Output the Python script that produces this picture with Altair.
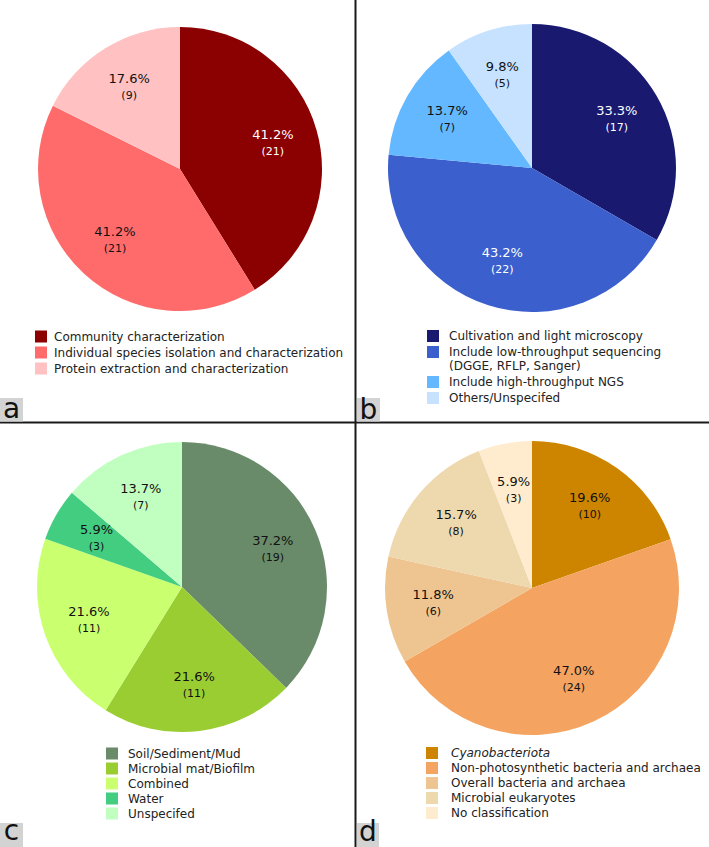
import altair as alt
import pandas as pd

FONT = "DejaVu Sans"

# ---- data ----
cats_a = ["Community characterization",
          "Individual species isolation and characterization",
          "Protein extraction and characterization"]
counts_a = [21, 21, 9]
pcts_a = [41.2, 41.2, 17.6]
colors_a = ["#8b0000", "#ff6b6b", "#ffc1c1"]
dark_a = ["Community characterization"]

cats_b = ["Cultivation and light microscopy",
          "Include low-throughput sequencing\n(DGGE, RFLP, Sanger)",
          "Include high-throughput NGS",
          "Others/Unspecifed"]
counts_b = [17, 22, 7, 5]
pcts_b = [33.3, 43.2, 13.7, 9.8]
colors_b = ["#191970", "#3b5fcd", "#63b8ff", "#c6e2ff"]
dark_b = ["Cultivation and light microscopy",
          "Include low-throughput sequencing\n(DGGE, RFLP, Sanger)"]

cats_c = ["Soil/Sediment/Mud", "Microbial mat/Biofilm", "Combined", "Water", "Unspecifed"]
counts_c = [19, 11, 11, 3, 7]
pcts_c = [37.2, 21.6, 21.6, 5.9, 13.7]
colors_c = ["#698b69", "#9acd32", "#caff70", "#43cd80", "#c1ffc1"]
dark_c = []

cats_d = ["Cyanobacteriota", "Non-photosynthetic bacteria and archaea",
          "Overall bacteria and archaea", "Microbial eukaryotes", "No classification"]
counts_d = [10, 24, 6, 8, 3]
pcts_d = [19.6, 47.0, 11.8, 15.7, 5.9]
colors_d = ["#cd8500", "#f4a460", "#eec591", "#eed8ae", "#ffebcd"]
dark_d = []

letters = ["a", "b", "c", "d"]

W, H = 709, 847


def pie(cats, counts, pcts, colors, dark, cx, cy, r, lx, ly, row_pad, label_off, italic=None):
    df = pd.DataFrame({
        "cat": cats,
        "value": counts,
        "idx": list(range(len(cats))),
        "pct": [f"{p:.1f}%" for p in pcts],
        "cnt": [f"({c})" for c in counts],
    })
    legend_kw = dict(
        orient="none", legendX=lx, legendY=ly, title=None, padding=0,
        symbolType="square", symbolSize=144, symbolStrokeWidth=0,
        labelFont=FONT, labelFontSize=12, labelColor="#222222",
        labelOffset=label_off, rowPadding=row_pad, labelLimit=400,
        labelExpr="split(datum.label, '\\n')",
    )
    if italic:
        legend_kw["labelFontStyle"] = alt.ExprRef(
            expr="datum.label == '%s' ? 'italic' : 'normal'" % italic)
    base = alt.Chart(df).encode(
        theta=alt.Theta("value:Q", stack=True),
        order=alt.Order("idx:Q"),
        x=alt.value(cx), y=alt.value(cy),
    )
    arc = base.mark_arc(radius=r, strokeWidth=0).encode(
        color=alt.Color("cat:N", scale=alt.Scale(domain=cats, range=colors),
                        legend=alt.Legend(**legend_kw), sort=cats)
    )
    tcolor = alt.condition(alt.FieldOneOfPredicate(field="cat", oneOf=dark) if dark
                           else alt.FieldOneOfPredicate(field="cat", oneOf=["__none__"]),
                           alt.value("white"), alt.value("#111111"))
    rl = 0.68 * r
    t1 = base.mark_text(radius=rl, dy=-8, font=FONT, fontSize=13).encode(
        text="pct:N", color=tcolor)
    t2 = base.mark_text(radius=rl, dy=9, font=FONT, fontSize=11).encode(
        text="cnt:N", color=tcolor)
    return alt.layer(arc, t1, t2)


pa = pie(cats_a, counts_a, pcts_a, colors_a, dark_a, 180, 169, 142, 35, 330.5, 4, 7)
pb = pie(cats_b, counts_b, pcts_b, colors_b, dark_b, 532, 168, 144, 427, 330, 4, 10)
pc = pie(cats_c, counts_c, pcts_c, colors_c, dark_c, 182, 587, 145, 106, 747.5, 3, 10)
pd_ = pie(cats_d, counts_d, pcts_d, colors_d, dark_d, 532, 588, 147, 426, 747, 3, 13, italic="Cyanobacteriota")

# separators
vline = alt.Chart(pd.DataFrame({"k": [0]})).mark_rule(color="#1a1a1a", strokeWidth=2).encode(
    x=alt.value(355.5), y=alt.value(0), y2=alt.value(H))
hline = alt.Chart(pd.DataFrame({"k": [0]})).mark_rule(color="#1a1a1a", strokeWidth=2).encode(
    y=alt.value(422.5), x=alt.value(0), x2=alt.value(W))

# letter tags
tag_layers = []
tag_boxes = [(0, 23, 398, 421.5, 417.5), (357, 380, 398, 421.5, 419),
             (0, 23, 823, 847, 840), (357, 379, 823, 847, 841)]
for letter, (x0, x1, y0, y1, yb) in zip(letters, tag_boxes):
    d = pd.DataFrame({"t": [letter]})
    box = alt.Chart(d).mark_rect(color="#d3d3d3").encode(
        x=alt.value(x0), x2=alt.value(x1), y=alt.value(y0), y2=alt.value(y1))
    txt = alt.Chart(d).mark_text(font=FONT, fontSize=28, color="#111111",
                                 align="center", baseline="alphabetic").encode(
        text="t:N", x=alt.value((x0 + x1) / 2), y=alt.value(yb))
    tag_layers += [box, txt]

chart = alt.layer(pa, pb, pc, pd_, vline, hline, *tag_layers).resolve_scale(
    color="independent", theta="independent"
).properties(
    width=W, height=H, padding=0, autosize=alt.AutoSizeParams(type="none"),
    background="white"
).configure_view(strokeWidth=0)

chart.save("out.html", embed_options={"renderer": "svg", "actions": False})
